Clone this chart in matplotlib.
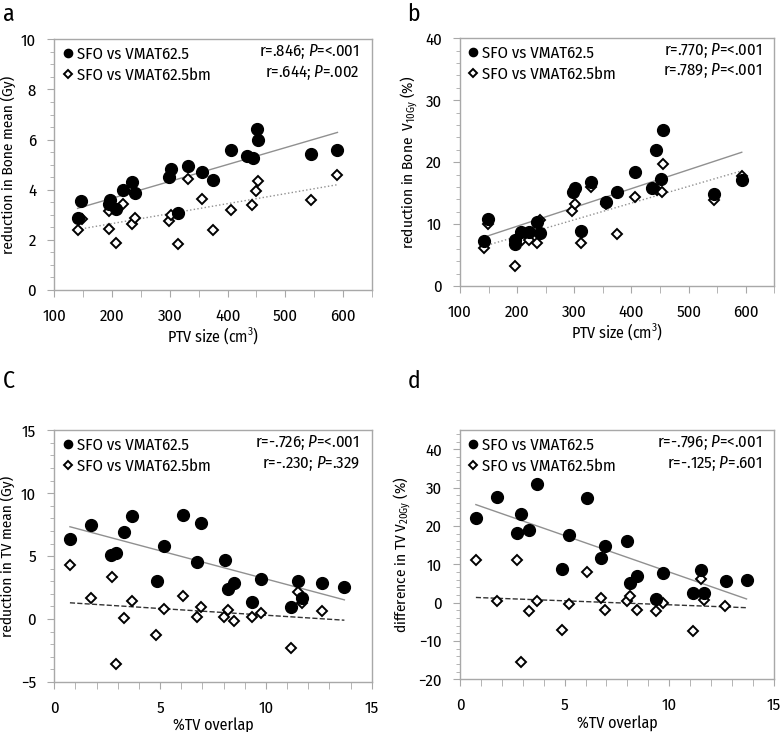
import matplotlib
matplotlib.use("Agg")
import matplotlib.pyplot as plt
import numpy as np
from matplotlib.ticker import MultipleLocator
from matplotlib import font_manager

_names = {f.name for f in font_manager.fontManager.ttflist}
FAM = 'DejaVu Sans'
for cand in ['Fira Sans Condensed', 'PT Sans Narrow', 'Source Sans 3', 'Asap Condensed']:
    if cand in _names:
        FAM = cand
        break
plt.rcParams['font.family'] = [FAM, 'DejaVu Sans']
if FAM == 'DejaVu Sans':
    plt.rcParams['font.stretch'] = 'condensed'
plt.rcParams['mathtext.fontset'] = 'custom'
plt.rcParams['mathtext.rm'] = FAM
plt.rcParams['mathtext.it'] = FAM + ':italic'

# ---------------- data ----------------
a_x_fill = [140.4, 146.1, 195.2, 196.5, 206.0, 219.4, 234.4, 239.6, 299.0, 301.3, 313.4,
            330.7, 356.0, 375.0, 405.6, 434.0, 444.3, 451.2, 453.0, 544.6, 590.2]
a_y_fill = [2.86, 3.54, 3.45, 3.60, 3.22, 3.99, 4.30, 3.88, 4.49, 4.81, 3.06,
            4.96, 4.69, 4.37, 5.59, 5.36, 5.25, 6.44, 5.97, 5.43, 5.59]
a_x_open = [141.0, 147.9, 195.2, 195.2, 206.0, 219.4, 234.4, 239.6, 299.0, 301.3, 313.4,
            330.7, 356.0, 375.0, 405.6, 443.0, 450.0, 453.0, 544.6, 590.2]
a_y_open = [2.39, 2.83, 3.16, 2.45, 1.89, 3.44, 2.63, 2.86, 2.74, 2.99, 1.82,
            4.43, 3.64, 2.39, 3.18, 3.39, 3.96, 4.34, 3.59, 4.59]

b_x_fill = [141.5, 148.5, 196.5, 196.5, 207.0, 219.9, 235.0, 240.4, 297.7, 300.6, 311.0,
            329.8, 356.1, 375.4, 405.8, 435.7, 443.3, 451.5, 455.6, 545.0, 593.0]
b_y_fill = [7.27, 10.77, 6.73, 7.43, 8.78, 8.67, 10.39, 8.50, 15.24, 15.77, 8.94,
            16.74, 13.50, 15.13, 18.36, 15.77, 21.90, 17.20, 25.20, 14.86, 17.12]
b_x_open = [141.5, 148.5, 196.5, 208.0, 219.9, 234.5, 240.4, 296.5, 300.6, 312.3,
            329.8, 356.0, 374.9, 405.8, 445.0, 453.8, 455.6, 545.0, 593.0]
b_y_open = [6.08, 10.00, 3.23, 7.50, 7.38, 6.90, 10.66, 12.10, 13.20, 7.00,
            16.00, 13.20, 8.34, 14.43, 15.50, 15.24, 19.76, 13.90, 17.80]

c_x_fill = [0.74, 1.75, 2.68, 2.93, 3.28, 3.69, 4.84, 5.20, 6.10, 6.76, 6.93,
            8.05, 8.21, 8.51, 9.36, 9.77, 11.17, 11.53, 11.71, 12.67, 13.71]
c_y_fill = [6.36, 7.50, 5.09, 5.25, 6.91, 8.19, 2.99, 5.77, 8.29, 4.56, 7.66,
            4.66, 2.38, 2.83, 1.38, 3.15, 0.98, 3.05, 1.64, 2.83, 2.54]
c_x_open = [0.74, 1.75, 2.73, 2.93, 3.28, 3.69, 4.81, 5.20, 6.10, 6.76, 6.93,
            8.02, 8.21, 8.51, 9.36, 9.77, 11.17, 11.53, 11.71, 12.67]
c_y_open = [4.32, 1.64, 3.36, -3.55, 0.05, 1.46, -1.25, 0.77, 1.85, 0.19, 0.98,
            0.19, 0.69, -0.16, 0.19, 0.50, -2.28, 2.12, 1.25, 0.64]

d_x_fill = [0.76, 1.76, 2.72, 2.93, 3.31, 3.70, 4.86, 5.21, 6.09, 6.73, 6.92,
            8.00, 8.12, 8.47, 9.35, 9.72, 11.14, 11.53, 11.65, 12.70, 13.69]
d_y_fill = [21.98, 27.47, 18.14, 23.20, 19.00, 31.10, 8.83, 17.62, 27.40, 11.70, 14.90,
            15.97, 5.08, 6.99, 1.07, 7.69, 2.55, 8.56, 2.55, 5.69, 5.95]
d_x_open = [0.76, 1.76, 2.72, 2.93, 3.28, 3.70, 4.86, 5.21, 6.09, 6.73, 6.92,
            8.00, 8.12, 8.47, 9.35, 9.72, 11.14, 11.53, 11.65, 12.67]
d_y_open = [11.10, 0.37, 11.10, -15.40, -2.09, 0.37, -7.10, -0.23, 8.00, 1.16, -1.83,
            0.37, 1.77, -1.83, -2.09, 0.03, -7.36, 6.12, 0.72, -0.84]

series_labels = ['SFO vs VMAT62.5', 'SFO vs VMAT62.5bm']
stats_a = ['r=.846; $\\it{P}$=<.001', 'r=.644; $\\it{P}$=.002']
stats_b = ['r=.770; $\\it{P}$=<.001', 'r=.789; $\\it{P}$=<.001']
stats_c = ['r=-.726; $\\it{P}$=<.001', 'r=-.230; $\\it{P}$=.329']
stats_d = ['r=-.796; $\\it{P}$=<.001', 'r=-.125; $\\it{P}$=.601']

panels = [
    dict(tag='a', xf=a_x_fill, yf=a_y_fill, xo=a_x_open, yo=a_y_open, stats=stats_a,
         xlim=(100, 650), ylim=(0, 10), xmin=50, ymaj=2, ymin=0.5,
         xticks=[100, 200, 300, 400, 500, 600],
         xlabel='PTV size (cm$^3$)', ylabel='reduction in Bone mean (Gy)',
         ls2=':', c2='#909090',
         rect=[0.0694, 0.6038, 0.4063, 0.3425], tagpos=(0.004, 0.980)),
    dict(tag='b', xf=b_x_fill, yf=b_y_fill, xo=b_x_open, yo=b_y_open, stats=stats_b,
         xlim=(100, 650), ylim=(0, 40), xmin=50, ymaj=10, ymin=2,
         xticks=[100, 200, 300, 400, 500, 600],
         xlabel='PTV size (cm$^3$)', ylabel='reduction in Bone  V$_{\\mathrm{10Gy}}$ (%)',
         ls2=':', c2='#909090',
         rect=[0.5882, 0.6093, 0.4020, 0.3384], tagpos=(0.521, 0.980)),
    dict(tag='C', xf=c_x_fill, yf=c_y_fill, xo=c_x_open, yo=c_y_open, stats=stats_c,
         xlim=(0, 15), ylim=(-5, 15), xmin=1, ymaj=5, ymin=1,
         xticks=[0, 5, 10, 15],
         xlabel='%TV overlap', ylabel='reduction in TV mean (Gy)',
         ls2='--', c2='#333333',
         rect=[0.0694, 0.0683, 0.4059, 0.3439], tagpos=(0.004, 0.479)),
    dict(tag='d', xf=d_x_fill, yf=d_y_fill, xo=d_x_open, yo=d_y_open, stats=stats_d,
         xlim=(0, 15), ylim=(-20, 45), xmin=1, ymaj=10, ymin=2,
         xticks=[0, 5, 10, 15],
         xlabel='%TV overlap', ylabel='difference in TV V$_{\\mathrm{20Gy}}$ (%)',
         ls2='--', c2='#333333',
         rect=[0.5882, 0.0720, 0.4015, 0.3402], tagpos=(0.521, 0.479)),
]

fig = plt.figure(figsize=(7.82, 7.32), dpi=100)
SPINE = '#a8a8a8'
FS = 12

for p in panels:
    ax = fig.add_axes(p['rect'])
    xf = np.array(p['xf']); yf = np.array(p['yf'])
    xo = np.array(p['xo']); yo = np.array(p['yo'])
    k1, b1 = np.polyfit(xf, yf, 1)
    k2, b2 = np.polyfit(xo, yo, 1)
    xr = np.array([min(xf.min(), xo.min()), max(xf.max(), xo.max())])
    ax.plot(xr, k1 * xr + b1, color='#909090', lw=1.0, zorder=2)
    ax.plot(xr, k2 * xr + b2, color=p['c2'], lw=1.0, ls=p['ls2'], zorder=2)
    ax.plot(xo, yo, ls='none', marker='D', ms=5.2, mfc='white', mec='black', mew=1.4,
            zorder=3, label=series_labels[1])
    ax.plot(xf, yf, ls='none', marker='o', ms=8.5, mfc='black', mec='black',
            zorder=4, label=series_labels[0])
    h, l = ax.get_legend_handles_labels()
    ax.legend([h[1], h[0]], [l[1], l[0]], loc='upper left', frameon=False,
              fontsize=FS, handletextpad=0.15, labelspacing=0.32,
              borderaxespad=0.1, borderpad=0.3, handlelength=0.8, markerscale=0.7)
    ax.text(0.962, 0.950, p['stats'][0], transform=ax.transAxes, ha='right', va='center',
            fontsize=FS)
    ax.text(0.962, 0.868, p['stats'][1], transform=ax.transAxes, ha='right', va='center',
            fontsize=FS)
    ax.set_xlim(*p['xlim']); ax.set_ylim(*p['ylim'])
    ax.set_xticks(p['xticks'])
    ax.xaxis.set_minor_locator(MultipleLocator(p['xmin']))
    ax.yaxis.set_major_locator(MultipleLocator(p['ymaj']))
    ax.yaxis.set_minor_locator(MultipleLocator(p['ymin']))
    for s in ax.spines.values():
        s.set_color(SPINE); s.set_linewidth(1.0)
    ax.tick_params(axis='both', which='both', color=SPINE, labelsize=12)
    ax.tick_params(axis='x', which='both', length=5, pad=8)
    ax.tick_params(axis='y', which='major', length=5, pad=8)
    ax.tick_params(axis='y', which='minor', length=3)
    ax.set_xlabel(p['xlabel'], fontsize=11.5, labelpad=1)
    ax.set_ylabel(p['ylabel'], fontsize=11, labelpad=4)
    fig.text(p['tagpos'][0], p['tagpos'][1], p['tag'], fontsize=17, ha='left', va='center')

fig.savefig('out.png', dpi=100)
